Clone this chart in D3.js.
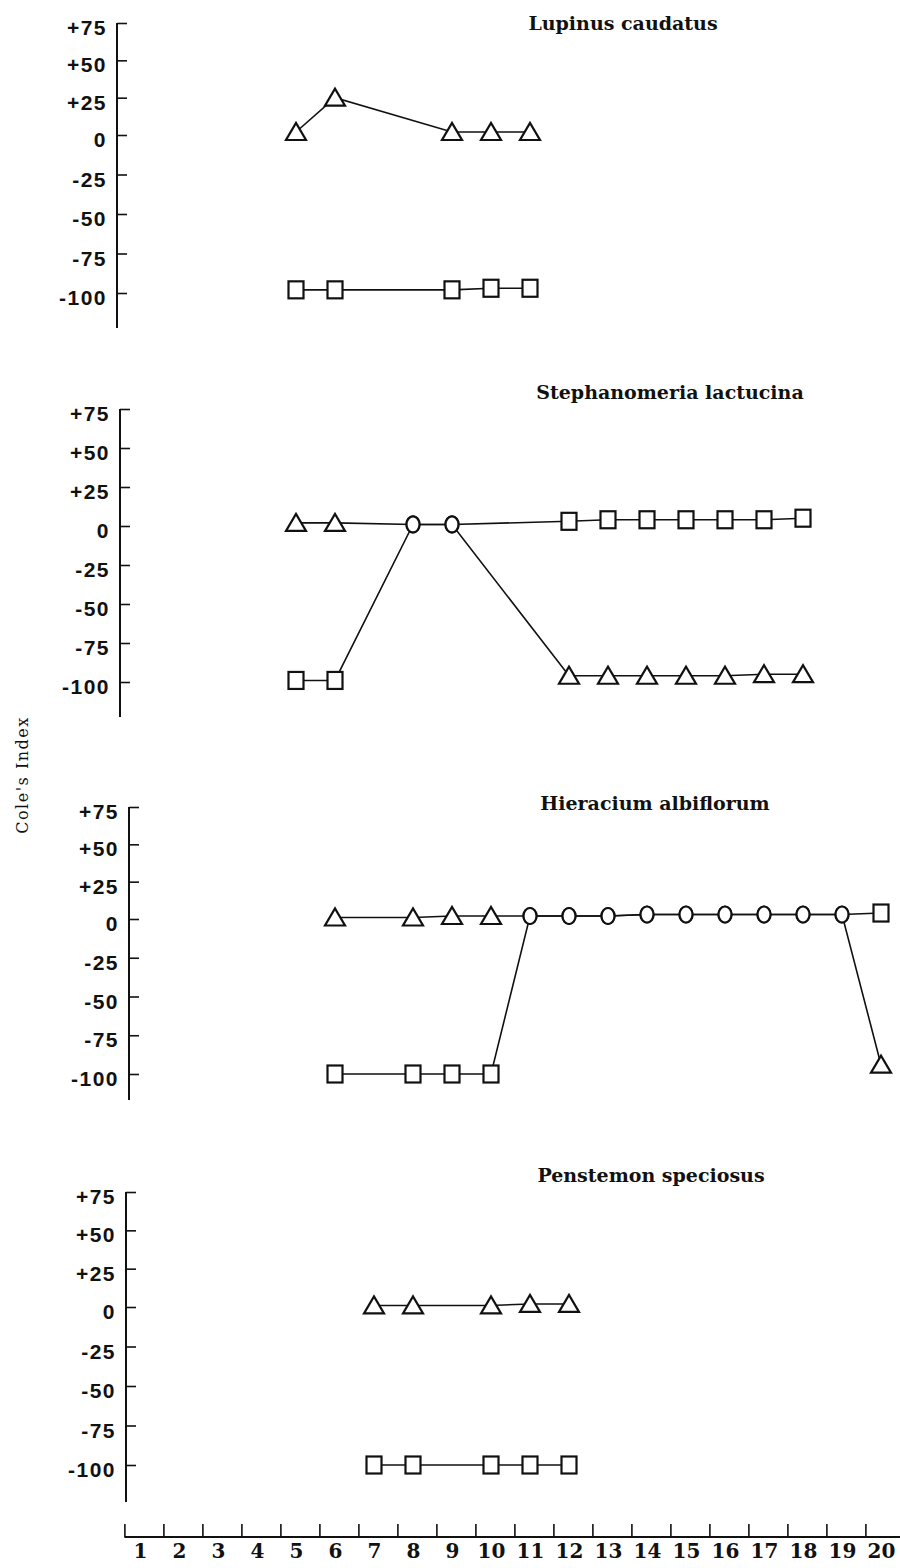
<!DOCTYPE html>
<html>
<head>
<meta charset="utf-8">
<script src="https://cdn.jsdelivr.net/npm/d3@7"></script>
<style>
  body { margin: 0; background: #fff; }
  .ytick text { font-family: "Liberation Sans Narrow", "Liberation Sans", sans-serif; font-weight: bold; font-size: 21px; letter-spacing: 1.5px; fill: #111; }
  .xlab text { font-family: "DejaVu Serif", serif; font-weight: bold; font-size: 20px; fill: #111; }
  .title { font-family: "DejaVu Serif", serif; font-size: 19px; font-weight: bold; fill: #111; }
  .ylabel { font-family: "DejaVu Serif", serif; font-size: 16px; letter-spacing: 1.5px; fill: #111; }
</style>
</head>
<body>
<div id="chart"></div>
<script>
// Cole's index per sampling date, one upper and one lower trace per species
// shapes: t = triangle, s = square, c = circle
var panelNames = ["Lupinus caudatus", "Stephanomeria lactucina", "Hieracium albiflorum", "Penstemon speciosus"];
var yTicks = [75, 50, 25, 0, -25, -50, -75, -100];
var xTickLabels = [1, 2, 3, 4, 5, 6, 7, 8, 9, 10, 11, 12, 13, 14, 15, 16, 17, 18, 19, 20];

var lupinusX = [5, 6, 9, 10, 11];
var lupinusUpper = [2, 25, 2, 2, 2];
var lupinusUpperShape = ["t", "t", "t", "t", "t"];
var lupinusLower = [-98, -98, -98, -97, -97];
var lupinusLowerShape = ["s", "s", "s", "s", "s"];

var stephX = [5, 6, 8, 9, 12, 13, 14, 15, 16, 17, 18];
var stephUpper = [2, 2, 1, 1, 3, 4, 4, 4, 4, 4, 5];
var stephUpperShape = ["t", "t", "c", "c", "s", "s", "s", "s", "s", "s", "s"];
var stephLower = [-99, -99, 1, 1, -96, -96, -96, -96, -96, -95, -95];
var stephLowerShape = ["s", "s", "c", "c", "t", "t", "t", "t", "t", "t", "t"];

var hierX = [6, 8, 9, 10, 11, 12, 13, 14, 15, 16, 17, 18, 19, 20];
var hierUpper = [1, 1, 2, 2, 2, 2, 2, 3, 3, 3, 3, 3, 3, 4];
var hierUpperShape = ["t", "t", "t", "t", "c", "c", "c", "c", "c", "c", "c", "c", "c", "s"];
var hierLower = [-100, -100, -100, -100, 2, 2, 2, 3, 3, 3, 3, 3, 3, -94];
var hierLowerShape = ["s", "s", "s", "s", "c", "c", "c", "c", "c", "c", "c", "c", "c", "t"];

var penX = [7, 8, 10, 11, 12];
var penUpper = [1, 1, 1, 2, 2];
var penUpperShape = ["t", "t", "t", "t", "t"];
var penLower = [-100, -100, -100, -100, -100];
var penLowerShape = ["s", "s", "s", "s", "s"];

var panelSeries = [
    [[lupinusX, lupinusUpper, lupinusUpperShape], [lupinusX, lupinusLower, lupinusLowerShape]],
    [[stephX, stephUpper, stephUpperShape], [stephX, stephLower, stephLowerShape]],
    [[hierX, hierUpper, hierUpperShape], [hierX, hierLower, hierLowerShape]],
    [[penX, penUpper, penUpperShape], [penX, penLower, penLowerShape]]
];

// page layout of each hand-drawn panel
var layout = [
    { axisX: 117, y75: 23, y0: 135, y100: 293, bottom: 328, titleX: 623, titleY: 23 },
    { axisX: 120, y75: 409, y0: 526, y100: 682, bottom: 717, titleX: 670, titleY: 392 },
    { axisX: 129, y75: 807, y0: 919, y100: 1074, bottom: 1100, titleX: 655, titleY: 803 },
    { axisX: 126, y75: 1192, y0: 1307, y100: 1465, bottom: 1502, titleX: 651, titleY: 1175 }
];

var svgWidth = 900;
var svgHeight = 1568;

var svg = d3.select("#chart")
    .append("svg")
    .attr("width", svgWidth)
    .attr("height", svgHeight)
    .style("background", "#fff");

// shared day scale
var xScale = d3.scaleLinear()
    .domain([1, 20])
    .range([140, 881]);

function drawMarker(g, shape, cx, cy) {
    if (shape === "t") {
        g.append("path")
            .attr("d", `M${cx - 10},${cy + 8}L${cx + 10},${cy + 8}L${cx},${cy - 9}Z`);
    } else if (shape === "s") {
        g.append("rect")
            .attr("x", cx - 7.5)
            .attr("y", cy - 8.5)
            .attr("width", 15)
            .attr("height", 17);
    } else {
        g.append("ellipse")
            .attr("cx", cx)
            .attr("cy", cy)
            .attr("rx", 6.5)
            .attr("ry", 8);
    }
}

panelNames.forEach(function (name, i) {
    var L = layout[i];

    var yScale = d3.scaleLinear()
        .domain([-100, 0, 75])
        .range([L.y100, L.y0, L.y75]);

    // y axis
    var yAxis = svg.append("g")
        .attr("class", "ytick")
        .attr("transform", `translate(${L.axisX}, 0)`)
        .call(d3.axisLeft(yScale)
            .tickValues(yTicks)
            .tickSizeInner(-10)
            .tickSizeOuter(0)
            .tickPadding(10)
            .tickFormat(d => d > 0 ? "+" + d : "" + d));
    yAxis.select(".domain").remove();
    yAxis.selectAll(".tick line").attr("stroke", "#111").attr("stroke-width", 1.6);
    yAxis.selectAll(".tick text").attr("dy", "0.55em").attr("fill", "#111");

    svg.append("line")
        .attr("x1", L.axisX).attr("x2", L.axisX)
        .attr("y1", L.y75).attr("y2", L.bottom)
        .attr("stroke", "#111")
        .attr("stroke-width", 2);

    // title
    svg.append("text")
        .attr("class", "title")
        .attr("x", L.titleX)
        .attr("y", L.titleY)
        .attr("dy", "0.35em")
        .attr("text-anchor", "middle")
        .text(name);

    var line = d3.line()
        .x(d => xScale(d.x))
        .y(d => yScale(d.v));

    var pg = svg.append("g");

    // lines first, then markers on top
    panelSeries[i].forEach(function (s) {
        var pts = s[0].map((x, j) => ({ x: x, v: s[1][j], shape: s[2][j] }));
        pg.append("path")
            .datum(pts)
            .attr("d", line)
            .attr("fill", "none")
            .attr("stroke", "#111")
            .attr("stroke-width", 1.6);
    });

    var mg = svg.append("g")
        .attr("fill", "#fff")
        .attr("stroke", "#111")
        .attr("stroke-width", 2.2);

    panelSeries[i].forEach(function (s) {
        s[0].forEach(function (x, j) {
            drawMarker(mg, s[2][j], xScale(x), yScale(s[1][j]));
        });
    });
});

// bottom day axis: tick marks sit between the labels
var axisY = 1537;
var tickMarks = xTickLabels.map(d => d - 0.4);

var tickAxis = svg.append("g")
    .attr("transform", `translate(0, ${axisY})`)
    .call(d3.axisTop(xScale)
        .tickValues(tickMarks)
        .tickSizeInner(13)
        .tickSizeOuter(0)
        .tickFormat(""));
tickAxis.select(".domain").remove();
tickAxis.selectAll(".tick line").attr("stroke", "#111").attr("stroke-width", 1.6);

svg.append("line")
    .attr("x1", xScale(0.6)).attr("x2", 900)
    .attr("y1", axisY).attr("y2", axisY)
    .attr("stroke", "#111")
    .attr("stroke-width", 2);

var labAxis = svg.append("g")
    .attr("class", "xlab")
    .attr("transform", `translate(0, ${axisY})`)
    .call(d3.axisBottom(xScale)
        .tickValues(xTickLabels)
        .tickSize(0)
        .tickPadding(7));
labAxis.select(".domain").remove();
labAxis.selectAll(".tick text").attr("fill", "#111");

// y axis title
svg.append("text")
    .attr("class", "ylabel")
    .attr("transform", "translate(22, 775) rotate(-90)")
    .attr("text-anchor", "middle")
    .attr("dy", "0.35em")
    .text("Cole's Index");
</script>
</body>
</html>
